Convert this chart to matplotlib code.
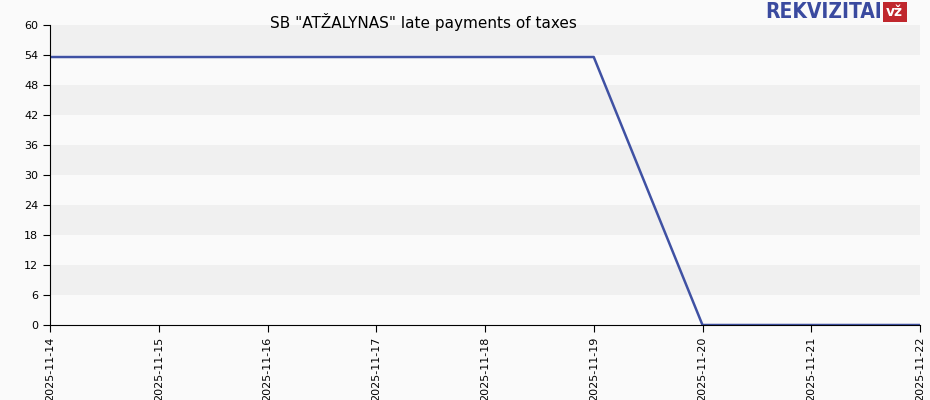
import matplotlib
matplotlib.use("Agg")
import matplotlib.pyplot as plt
import matplotlib.dates as mdates
from datetime import datetime

dates = ["2025-11-14", "2025-11-15", "2025-11-16", "2025-11-17", "2025-11-18",
         "2025-11-19", "2025-11-20", "2025-11-21", "2025-11-22"]
values = [53.6, 53.6, 53.6, 53.6, 53.6, 53.6, 0, 0, 0]
yticks = [0, 6, 12, 18, 24, 30, 36, 42, 48, 54, 60]

x = [datetime.strptime(d, "%Y-%m-%d") for d in dates]

fig = plt.figure(figsize=(9.3, 4.0), dpi=100)
fig.patch.set_facecolor("#fafafa")
ax = fig.add_axes([50 / 930, 75 / 400, 870 / 930, 300 / 400])
ax.set_facecolor("#fafafa")

# alternating bands
for i in range(len(yticks) - 1):
    if i % 2 == 1:
        ax.axhspan(yticks[i], yticks[i + 1], color="#f0f0f0", lw=0)

ax.plot(x, values, color="#3f51a3", lw=1.8)
ax.set_xlim(x[0], x[-1])
ax.set_ylim(0, 60)
ax.set_yticks(yticks)
ax.set_xticks(x)
ax.xaxis.set_major_formatter(mdates.DateFormatter("%Y-%m-%d"))
ax.tick_params(axis="x", rotation=90, labelsize=8, length=5)
ax.tick_params(axis="y", labelsize=8, length=5)
for s in ["top", "right"]:
    ax.spines[s].set_visible(False)

fig.text(0.455, 0.945, 'SB "ATŽALYNAS" late payments of taxes', ha="center", va="center", fontsize=11)
fig.text(0.948, 0.97, "REKVIZITAI", ha="right", va="center", fontsize=15,
         color="#3a4a9f", fontweight="bold", fontstretch="condensed")
fig.text(0.962, 0.97, "vž", ha="center", va="center", fontsize=10, color="white",
         fontweight="bold", bbox=dict(boxstyle="square,pad=0.25", fc="#c0272d", ec="none"))

fig.savefig("out.png", dpi=100, facecolor=fig.get_facecolor())
